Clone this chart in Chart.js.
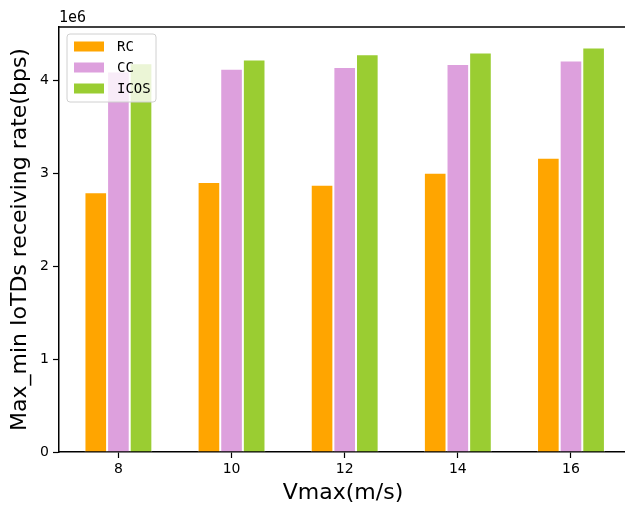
<!DOCTYPE html>
<html>
<head>
<meta charset="utf-8">
<script src="https://cdn.jsdelivr.net/npm/chart.js@4.4.0/dist/chart.umd.min.js"></script>
<style>
  html, body { margin: 0; padding: 0; background: #fff; overflow: hidden; }
  #wrap { width: 625px; height: 509px; overflow: hidden; }
</style>
</head>
<body>
<div id="wrap"><canvas id="chart" width="640" height="509"></canvas></div>
<script>
// Data
const categories = [8, 10, 12, 14, 16];
const rcValues = [2.80e6, 2.91e6, 2.88e6, 3.01e6, 3.17e6];
const ccValues = [4.10e6, 4.13e6, 4.15e6, 4.18e6, 4.22e6];
const icosValues = [4.19e6, 4.23e6, 4.285e6, 4.305e6, 4.36e6];
const yTicks = [0, 1, 2, 3, 4];
const seriesNames = ['RC', 'CC', 'ICOS'];
const seriesColors = ['#FFA500', '#DDA0DD', '#9ACD32'];
const xTitle = 'Vmax(m/s)';

const FONT = "'DejaVu Sans', sans-serif";
const MONO = "'DejaVu Sans Mono', monospace";

function toPoints(values) {
    return categories.map((x, i) => ({ x: x, y: values[i] }));
}

const datasets = [rcValues, ccValues, icosValues].map((vals, i) => ({
    label: seriesNames[i],
    data: toPoints(vals),
    backgroundColor: seriesColors[i],
    borderColor: '#ffffff',
    borderWidth: 1,
    borderSkipped: 'bottom',
    categoryPercentage: 0.6,
    barPercentage: 1.0
}));

// Top spine, exponent label, x title, legend inside the plot
const framePlugin = {
    id: 'frame',
    afterDatasetsDraw(chart) {
        const ctx = chart.ctx;

        // legend box
        const bx = 67, by = 34, bw = 89, bh = 68;
        ctx.save();
        ctx.beginPath();
        ctx.roundRect(bx, by, bw, bh, 3);
        ctx.fillStyle = 'rgba(255,255,255,0.8)';
        ctx.fill();
        ctx.strokeStyle = '#d0d0d0';
        ctx.lineWidth = 1;
        ctx.stroke();

        chart.data.datasets.forEach((ds, i) => {
            const cy = 46.5 + i * 21;
            ctx.fillStyle = ds.backgroundColor;
            ctx.fillRect(74, cy - 5, 30, 10);
            ctx.fillStyle = '#000';
            ctx.font = '14px ' + MONO;
            ctx.textBaseline = 'middle';
            ctx.textAlign = 'left';
            ctx.fillText(ds.label, 117, cy + 1);
        });
        ctx.restore();
    },
    afterDraw(chart) {
        const ctx = chart.ctx;
        const area = chart.chartArea;
        ctx.save();
        ctx.strokeStyle = '#000';
        ctx.lineWidth = 1.5;
        ctx.beginPath();
        ctx.moveTo(area.left - 0.75, area.top);
        ctx.lineTo(chart.width, area.top);
        ctx.stroke();

        ctx.fillStyle = '#000';
        ctx.font = '15px ' + MONO;
        ctx.textAlign = 'left';
        ctx.textBaseline = 'alphabetic';
        ctx.fillText('1e6', area.left, area.top - 5);

        // x axis title, centred on the visible part of the axes
        ctx.font = '22px ' + FONT;
        ctx.textAlign = 'center';
        ctx.fillText(xTitle, 343, 499);
        ctx.restore();
    }
};

new Chart(document.getElementById('chart'), {
    type: 'bar',
    data: { datasets: datasets },
    options: {
        responsive: false,
        animation: false,
        layout: { padding: { top: 27, right: 0, left: 0, bottom: 0 } },
        plugins: {
            legend: { display: false },
            tooltip: { enabled: false }
        },
        scales: {
            x: {
                type: 'linear',
                min: 6.95,
                max: 17.22,
                offset: false,
                afterBuildTicks: scale => {
                    scale.ticks = categories.map(v => ({ value: v }));
                },
                afterFit: scale => { scale.height = 57; },
                ticks: {
                    color: '#000',
                    font: { family: FONT, size: 14 },
                    padding: 3,
                    maxRotation: 0,
                    callback: v => String(v)
                },
                grid: {
                    offset: false,
                    drawOnChartArea: false,
                    drawTicks: true,
                    tickLength: 6,
                    tickColor: '#000',
                    tickWidth: 1.2
                },
                border: { display: true, color: '#000', width: 1.5 },
                title: { display: false }
            },
            y: {
                min: 0,
                max: 4.58e6,
                afterBuildTicks: scale => {
                    scale.ticks = yTicks.map(v => ({ value: v * 1e6 }));
                },
                afterFit: scale => { scale.width = 59; },
                ticks: {
                    color: '#000',
                    font: { family: FONT, size: 14 },
                    padding: 4,
                    callback: v => String(v / 1e6)
                },
                grid: {
                    drawOnChartArea: false,
                    drawTicks: true,
                    tickLength: 6,
                    tickColor: '#000',
                    tickWidth: 1.2
                },
                border: { display: true, color: '#000', width: 1.5 },
                title: {
                    display: true,
                    text: 'Max_min IoTDs receiving rate(bps)',
                    color: '#000',
                    font: { family: FONT, size: 22 },
                    padding: { top: 7, bottom: 0 }
                }
            }
        }
    },
    plugins: [framePlugin]
});
</script>
</body>
</html>
